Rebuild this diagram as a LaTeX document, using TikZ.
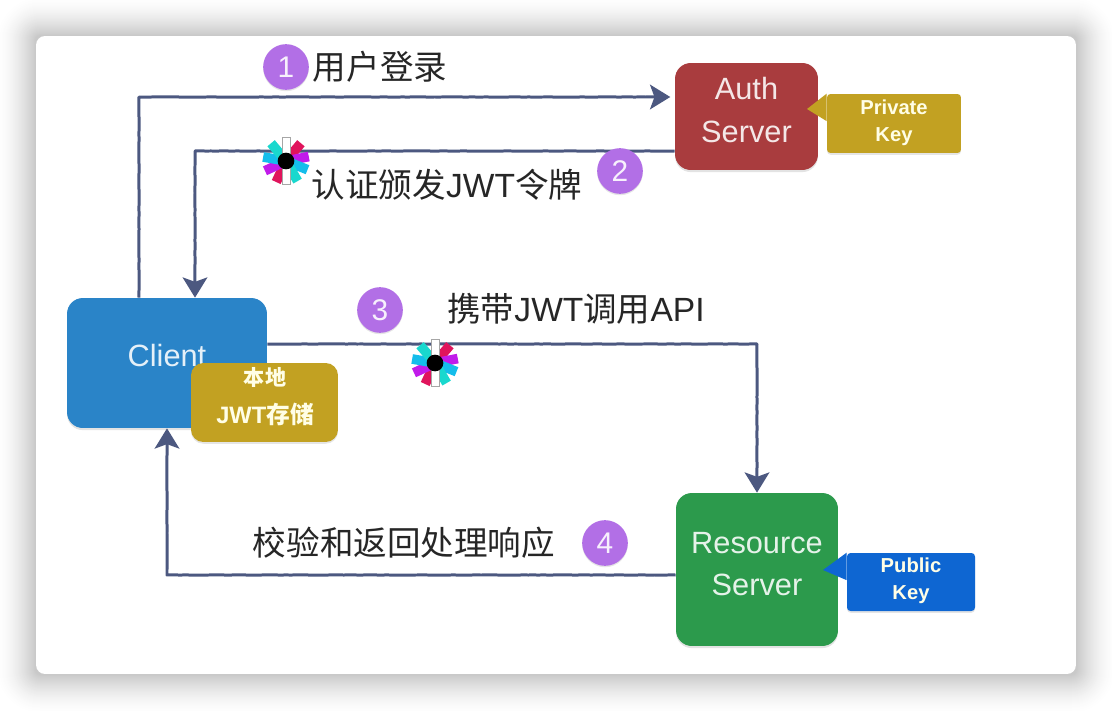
\documentclass[tikz,border=0pt]{standalone}
\usepackage{fontspec}
\setmainfont{Liberation Sans}
\newfontfamily\cjk{Noto Sans CJK SC}
\usetikzlibrary{arrows.meta,shadows,decorations.pathmorphing}
\definecolor{flowcol}{HTML}{4C5880}
\definecolor{clientcol}{HTML}{2A84C8}
\definecolor{authcol}{HTML}{A93C3E}
\definecolor{rescol}{HTML}{2C9A4C}
\definecolor{keycol}{HTML}{C2A122}
\definecolor{pubcol}{HTML}{0E66D2}
\definecolor{stepcol}{HTML}{B26FE6}
\definecolor{petalpink}{HTML}{E0145C}
\definecolor{petalpurple}{HTML}{C11BEA}
\definecolor{petalcyan}{HTML}{14BDEB}
\definecolor{petalteal}{HTML}{19D8CE}
\newcommand{\zh}[1]{{\cjk #1}}
\tikzset{
  x=0.02cm, y=-0.02cm,
  flow/.style={draw=flowcol, line width=1.7pt, line join=round, -{Stealth[length=11.5pt,width=14pt,inset=2.5pt]},
    decorate, decoration={random steps,segment length=3pt,amplitude=.14pt,post length=8pt}},
  boxnode/.style={rounded corners=9pt, inner sep=0pt, text=white, drop shadow={opacity=.22,shadow xshift=0pt,shadow yshift=-1.2pt}},
  keynode/.style={fill=#1, inner sep=0pt, rounded corners=2pt, drop shadow={opacity=.2,shadow xshift=0pt,shadow yshift=-1pt}},
  boxtext/.style={text=white, text opacity=.88, font=\fontsize{17.5}{24}\selectfont, align=center, inner sep=0pt},
  keytext/.style={text=white!90!yellow, font=\fontsize{11.5}{15.5}\selectfont\bfseries, align=center, inner sep=0pt},
  storetext/.style={text=white!90!yellow, font=\fontsize{13.5}{15.5}\selectfont\bfseries, align=center, inner sep=0pt},
  stepnode/.style={circle, fill=stepcol, minimum size=26pt, inner sep=0pt, text=white, text opacity=.9, font=\fontsize{17}{17}\selectfont, drop shadow={opacity=.2,shadow xshift=0pt,shadow yshift=-.8pt}},
  steptext/.style={inner sep=0pt, font=\fontsize{19.1}{20}\selectfont, text=black!85},
  petal/.style={minimum width=5.5pt, minimum height=13pt, inner sep=0pt, anchor=south, fill=#1},
  jwtlogo/.pic={
    \foreach \ang/\col in {50/petalpink,11/petalpurple,-22/petalcyan,-60/petalteal,-115/petalpink,-155/petalpurple,170/petalcyan,130/petalteal}
      \node[petal=\col, rotate=\ang-90] at (0,0) {};
    \node[petal=white, draw=black!35, line width=.5pt, minimum width=4.5pt] at (0,0) {};
    \node[petal=white, draw=black!35, line width=.5pt, minimum width=4.5pt, rotate=180] at (0,0) {};
    \node[circle, fill=black, minimum size=9.5pt, inner sep=0pt] at (0,0) {};
  }
}
\begin{document}
\begin{tikzpicture}
    \useasboundingbox (0,0) rectangle (1112,710);
    % soft shadow round the card
    \foreach \r in {40,39,...,1} {
      \pgfmathsetmacro\shadeval{22*(1-\r/41)^1.7}
      \fill[black!\shadeval!white, rounded corners={(5+\r)*0.02cm}] (36-\r,36-\r) rectangle (1076+\r,674+\r);
    }
    \node[fill=white, rounded corners=5pt, minimum width=20.8cm, minimum height=12.76cm, inner sep=0pt] (Card) at (556,355) {};

    \node[boxnode, fill=authcol, minimum width=2.86cm, minimum height=2.14cm] (Auth) at (746.5,116.5) {};
    \node[boxnode, fill=clientcol, minimum width=4cm, minimum height=2.6cm] (Client) at (167,363) {};
    \node[boxnode, fill=rescol, minimum width=3.24cm, minimum height=3.06cm] (Resource) at (757,569.5) {};

    \node[boxtext] (AuthText) at (746.5,110) {Auth\\Server};
    \node[boxtext] (ClientText) at (167,356) {Client};
    \node[boxtext] (ResourceText) at (757,564) {Resource\\Server};

    \node[keynode=keycol, minimum width=2.68cm, minimum height=1.18cm] (Private) at (894,123.5) {};
    \node[keynode=pubcol, minimum width=2.56cm, minimum height=1.16cm] (Public) at (911,582) {};
    \coordinate (PrivateTip) at (807,109);
    \coordinate (PublicTip) at (823,570);
    \fill[keycol] (PrivateTip) -- (Private.north west) -- ([yshift=-1.1cm*0.5]Private.north west) -- cycle;
    \fill[pubcol] (PublicTip) -- (Public.north west) -- ([yshift=-1.1cm*0.5]Public.north west) -- cycle;
    \node[keytext] (PrivateText) at (894,122.5) {Private\\Key};
    \node[keytext] (PublicText) at (911,580.5) {Public\\Key};

    \node[keynode=keycol, rounded corners=7pt, minimum width=2.94cm, minimum height=1.58cm] (Store) at (264.5,402.5) {};
    \node[storetext, font=\fontsize{12}{15}\selectfont\bfseries] (StoreTop) at (265,377) {\zh{\bfseries 本地}};
    \node[storetext] (StoreBottom) at (265,414) {JWT\zh{\bfseries 存储}};

    \coordinate (TurnA) at (139,97);
    \coordinate (TurnB) at (195,151);
    \coordinate (TurnC) at (757,344);
    \coordinate (TurnD) at (167,575);

    \draw[flow] (Client.north -| TurnA) -- (TurnA) -- ([xshift=-5pt*0.5]Auth.west |- TurnA);
    \draw[flow] (Auth.west |- TurnB) -- (TurnB) -- (Client.north -| TurnB);
    \draw[flow] (Client.east |- TurnC) -- (TurnC) -- (Resource.north);
    \draw[flow] (Resource.west |- TurnD) -- (TurnD) -- (Client.south -| TurnD);

    \pic at (286,161) {jwtlogo};
    \pic at (435,363) {jwtlogo};

    \node[stepnode] (StepA) at (286,67) {1};
    \node[stepnode] (StepB) at (620,171) {2};
    \node[stepnode] (StepC) at (380,310) {3};
    \node[stepnode] (StepD) at (605,543) {4};

    \node[steptext] (TextA) at (380,67) {\zh{用户登录}};
    \node[steptext] (TextB) at (447,185) {\zh{认证颁发}JWT\zh{令牌}};
    \node[steptext] (TextC) at (576,309) {\zh{携带}JWT\zh{调用}API};
    \node[steptext] (TextD) at (404,543) {\zh{校验和返回处理响应}};
\end{tikzpicture}
\end{document}
